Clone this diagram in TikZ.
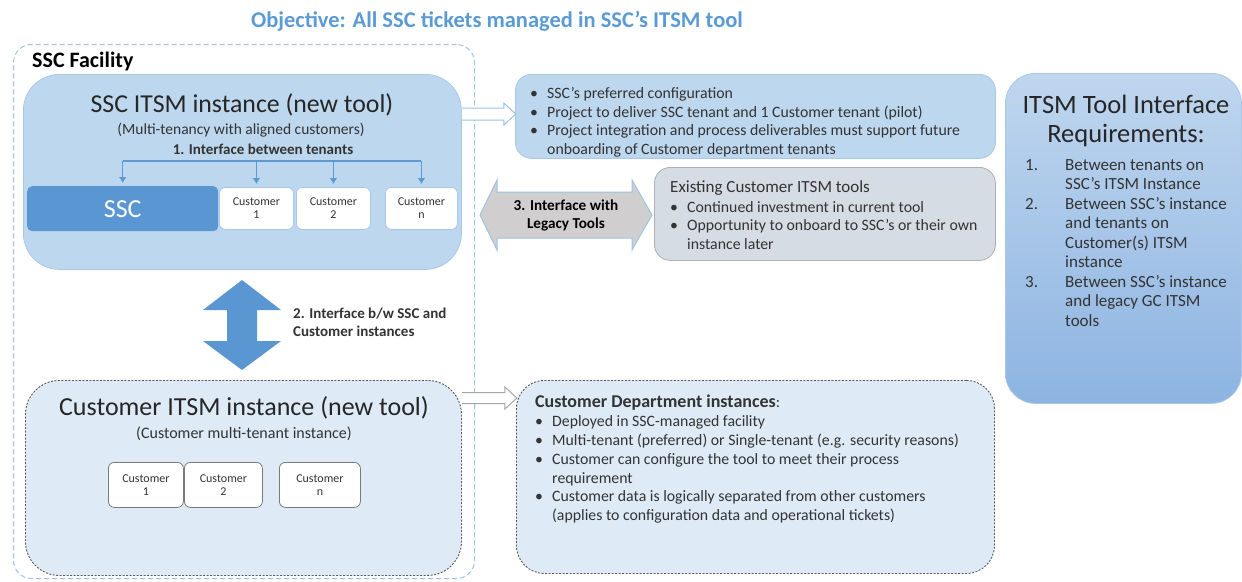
\documentclass[tikz,border=0pt]{standalone}
\usepackage{fontspec}
\setmainfont{Carlito}
\usetikzlibrary{arrows.meta,positioning}

\definecolor{titleblue}{HTML}{5B9BD5}
\definecolor{sscblue}{HTML}{5A96D2}
\definecolor{midfill}{HTML}{BDD7EE}
\definecolor{lightfill}{HTML}{DEEBF7}
\definecolor{facline}{HTML}{9DC3E6}
\definecolor{boxline}{HTML}{A9C8E8}
\definecolor{dotline}{HTML}{595959}
\definecolor{greyfill}{HTML}{D0CECE}
\definecolor{existfill}{HTML}{D6DCE4}
\definecolor{reqtop}{HTML}{BFD6EE}
\definecolor{reqbot}{HTML}{8DB4E2}
\definecolor{txt}{HTML}{333333}

\newcommand{\fsz}[2]{\fontsize{#1}{#2}\selectfont}
\newcommand{\bul}{\makebox[17pt][l]{\textbullet}}
\newcommand{\ind}{\hspace*{17pt}}
\newcommand{\num}[1]{\makebox[40pt][l]{#1}}

\begin{document}
\begin{tikzpicture}[x=1pt,y=-1pt,
    every node/.style={inner sep=0pt,text=txt},
    facility/.style={draw=facline,dash pattern=on 5pt off 3pt,line width=1pt,rounded corners=18pt,anchor=north west},
    instbox/.style={draw=boxline,line width=0.8pt,rounded corners=36pt,anchor=north west},
    dotbox/.style={draw=dotline,dash pattern=on 2pt off 1.5pt,line width=0.9pt,fill=lightfill,anchor=north west},
    tenant/.style={draw=boxline,fill=white,line width=0.8pt,rounded corners=6pt,anchor=north west,align=center,font=\fsz{12}{13}},
    ctenant/.style={tenant,draw=dotline!80},
    infobox/.style={draw=boxline,line width=0.8pt,rounded corners=16pt,anchor=north west},
    listtext/.style={anchor=north west,align=left,font=\fsz{15.8}{18.7}},
    tenantlink/.style={draw=titleblue,line width=1.2pt},
    hollow/.style={draw=facline,fill=white,line width=1pt,line join=miter},
]
\useasboundingbox (0,0) rectangle (1242,581);

% headline
\node[font=\fsz{22.5}{26}\bfseries,text=titleblue] (objective) at (497,21)
  {Objective: All SSC tickets managed in SSC's ITSM tool};

% SSC facility
\node[facility,minimum width=461,minimum height=534] (facility) at (13,44) {};
\node[anchor=west,font=\fsz{22}{24}\bfseries,text=black] (facname) at (32,62) {SSC Facility};

% SSC ITSM instance
\node[instbox,fill=midfill,minimum width=438,minimum height=195] (sscinst) at (23,74) {};
\node[font=\fsz{25.8}{30},text=black!85] (ssctitle) at (242,105) {SSC ITSM instance (new tool)};
\node[font=\fsz{15.5}{17}] (sscsub) at (241,130) {(Multi-tenancy with aligned customers)};
\node[font=\fsz{15}{17}\bfseries] (tenantlbl) at (263,149) {1. Interface between tenants};

\node[anchor=north west,fill=sscblue,rounded corners=5pt,minimum width=191,minimum height=45,
      font=\fsz{26}{30},text=white] (ssc) at (27,186) {SSC};
\node[tenant,minimum width=74,minimum height=42] (cust1) at (219,187) {Customer\\1};
\node[tenant,minimum width=74,minimum height=42] (cust2) at (296,187) {Customer\\2};
\node[tenant,minimum width=72,minimum height=42] (custn) at (385,187) {Customer\\n};

\coordinate (bar) at (0,161);
\draw[tenantlink] (ssc.north |- bar) -- (custn.north |- bar);
\foreach \t in {ssc,cust1,cust2,custn}
  \draw[tenantlink,-{Latex[length=6pt,width=8pt]}] (\t.north |- bar) -- ([yshift=3pt]\t.north);

% interface 2
\coordinate (vmid) at (242,325);
\fill[sscblue,shift={(vmid)}] (0,-45) -- (39,-15) -- (15,-15) -- (15,16) -- (39,16) -- (0,45)
  -- (-39,16) -- (-15,16) -- (-15,-15) -- (-39,-15) -- cycle;
\node[anchor=west,align=left,font=\fsz{15}{18}\bfseries] (iface2) at (293,322)
  {2. Interface b/w SSC and\\Customer instances};

% customer ITSM instance
\node[dotbox,rounded corners=34pt,minimum width=436,minimum height=195] (custinst) at (25,380) {};
\node[font=\fsz{26}{30},text=black!85] (custtitle) at (244,408) {Customer ITSM instance (new tool)};
\node[font=\fsz{16}{18}] (custsub) at (244,434) {(Customer multi-tenant instance)};
\node[ctenant,minimum width=75,minimum height=45] (ccust1) at (108,462) {Customer\\1};
\node[ctenant,minimum width=78,minimum height=45] (ccust2) at (184,462) {Customer\\2};
\node[ctenant,minimum width=81,minimum height=45] (ccustn) at (279,462) {Customer\\n};

% preferred configuration
\node[infobox,fill=midfill,minimum width=480,minimum height=84] (config) at (515,74) {};
\node[listtext] (configlist) at (530,87)
  {\bul SSC's preferred configuration\\
   \bul Project to deliver SSC tenant and 1 Customer tenant (pilot)\\
   \bul Project integration and process deliverables must support future\\
   \ind onboarding of Customer department tenants};
\coordinate (a1) at ([yshift=-40pt]sscinst.east |- config.north);
\draw[hollow,shift={(a1)}] (0,-6) -- (42,-6) -- (42,-11) -- (54,0) -- (42,11) -- (42,6) -- (0,6);

% legacy tools
\node[infobox,fill=existfill,draw=existfill!80!black,minimum width=341,minimum height=93] (existing) at (654,167) {};
\node[anchor=north west,font=\fsz{17}{20}] (existtitle) at (670,180) {Existing Customer ITSM tools};
\node[listtext] (existlist) at (670,201)
  {\bul Continued investment in current tool\\
   \bul Opportunity to onboard to SSC's or their own\\
   \ind instance later};
\coordinate (lmid) at (566,215);
\fill[greyfill,draw=facline,line width=1pt,shift={(lmid)}] (-86,0) -- (-69,-35) -- (-69,-23) -- (66,-23)
  -- (66,-35) -- (86,0) -- (66,35) -- (66,23) -- (-69,23) -- (-69,35) -- cycle;
\node[align=center,font=\fsz{15.2}{18}\bfseries,text=black] (legacy) at (lmid) {3. Interface with\\Legacy Tools};

% customer department instances
\node[dotbox,rounded corners=28pt,minimum width=478,minimum height=193] (deptinst) at (516,380) {};
\node[listtext,font=\fsz{15.8}{18.8}] (deptlist) at (535,395)
  {{\fsz{18}{18.8}\bfseries Customer Department instances}:\\
   \bul Deployed in SSC-managed facility\\
   \bul Multi-tenant (preferred) or Single-tenant (e.g. security reasons)\\
   \bul Customer can configure the tool to meet their process\\
   \ind requirement\\
   \bul Customer data is logically separated from other customers\\
   \ind (applies to configuration data and operational tickets)};
\coordinate (a2) at ([yshift=-18pt]custinst.east |- deptinst.north);
\draw[hollow,draw=black!35,shift={(a2)}] (0,-5.5) -- (43,-5.5) -- (43,-11) -- (55,0) -- (43,11) -- (43,5.5) -- (0,5.5);

% requirements
\node[infobox,rounded corners=30pt,top color=reqtop,bottom color=reqbot,minimum width=236,minimum height=330] (reqs) at (1005,73) {};
\node[align=center,font=\fsz{26.5}{29},text=black!85] (reqtitle) at (1126,121) {ITSM Tool Interface\\Requirements:};
\node[listtext,font=\fsz{17}{19.5}] (reqlist) at (1025,159)
  {\num{1.}Between tenants on\\
   \num{}SSC's ITSM Instance\\
   \num{2.}Between SSC's instance\\
   \num{}and tenants on\\
   \num{}Customer(s) ITSM\\
   \num{}instance\\
   \num{3.}Between SSC's instance\\
   \num{}and legacy GC ITSM\\
   \num{}tools};
\end{tikzpicture}
\end{document}
